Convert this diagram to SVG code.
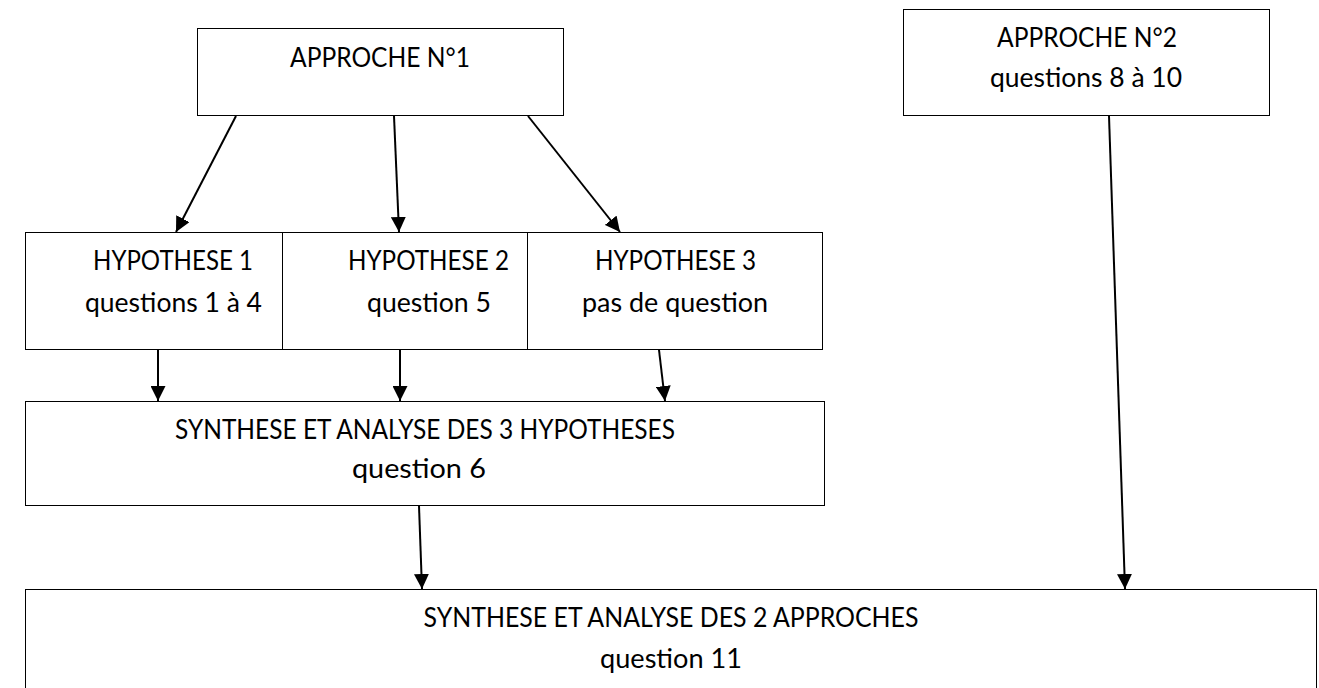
<svg xmlns="http://www.w3.org/2000/svg" width="1319" height="688" viewBox="0 0 1319 688">
<defs>
<style>
.box{fill:#fff;stroke:#000;stroke-width:1}
.t{font-family:Lato,"Open Sans","Liberation Sans",sans-serif;font-size:26px;fill:#000;text-anchor:middle}
.c{stroke:#000;stroke-width:2;fill:none;marker-end:url(#ah)}
</style>
<marker id="ah" markerUnits="userSpaceOnUse" markerWidth="15" markerHeight="15" refX="15" refY="7.5" orient="auto">
<path d="M0,0 L15,7.5 L0,15 z" fill="#000"/>
</marker>
</defs>
<rect width="1319" height="688" fill="#fff"/>
<g id="approche1">
<rect class="box" x="197.5" y="28.5" width="366" height="87"/>
<text class="t" x="380" y="67" textLength="180" lengthAdjust="spacingAndGlyphs">APPROCHE N°1</text>
</g>
<g id="approche2">
<rect class="box" x="903.5" y="9.5" width="366" height="106"/>
<text class="t" x="1087" y="47" textLength="180" lengthAdjust="spacingAndGlyphs">APPROCHE N°2</text>
<text class="t" x="1086" y="87" textLength="192" lengthAdjust="spacingAndGlyphs">questions 8 à 10</text>
</g>
<g id="hyp1">
<rect class="box" x="25.5" y="232.5" width="257" height="117"/>
<text class="t" x="173" y="270" textLength="160" lengthAdjust="spacingAndGlyphs">HYPOTHESE 1</text>
<text class="t" x="173.5" y="312" textLength="177" lengthAdjust="spacingAndGlyphs">questions 1 à 4</text>
</g>
<g id="hyp2">
<rect class="box" x="282.5" y="232.5" width="245" height="117"/>
<text class="t" x="428.5" y="270" textLength="161" lengthAdjust="spacingAndGlyphs">HYPOTHESE 2</text>
<text class="t" x="429" y="312" textLength="124" lengthAdjust="spacingAndGlyphs">question 5</text>
</g>
<g id="hyp3">
<rect class="box" x="527.5" y="232.5" width="295" height="117"/>
<text class="t" x="675.5" y="270" textLength="161" lengthAdjust="spacingAndGlyphs">HYPOTHESE 3</text>
<text class="t" x="675" y="312" textLength="186" lengthAdjust="spacingAndGlyphs">pas de question</text>
</g>
<g id="synthese3">
<rect class="box" x="25.5" y="401.5" width="799" height="104"/>
<text class="t" x="425" y="439" textLength="500" lengthAdjust="spacingAndGlyphs">SYNTHESE ET ANALYSE DES 3 HYPOTHESES</text>
<text class="t" x="419" y="478" textLength="134" lengthAdjust="spacingAndGlyphs">question 6</text>
</g>
<g id="synthese2">
<rect class="box" x="25.5" y="589.5" width="1291" height="120"/>
<text class="t" x="671" y="627" textLength="495" lengthAdjust="spacingAndGlyphs">SYNTHESE ET ANALYSE DES 2 APPROCHES</text>
<text class="t" x="671" y="668" textLength="142" lengthAdjust="spacingAndGlyphs">question 11</text>
</g>
<g id="connectors">
<line class="c" x1="236" y1="116" x2="176" y2="232"/>
<line class="c" x1="394" y1="116" x2="399" y2="232"/>
<line class="c" x1="528" y1="116" x2="620" y2="232"/>
<line class="c" x1="158" y1="350" x2="158" y2="401"/>
<line class="c" x1="400" y1="350" x2="400" y2="401"/>
<line class="c" x1="659" y1="350" x2="665" y2="401"/>
<line class="c" x1="419" y1="506" x2="422" y2="589"/>
<line class="c" x1="1109" y1="116" x2="1125" y2="589"/>
</g>
</svg>
